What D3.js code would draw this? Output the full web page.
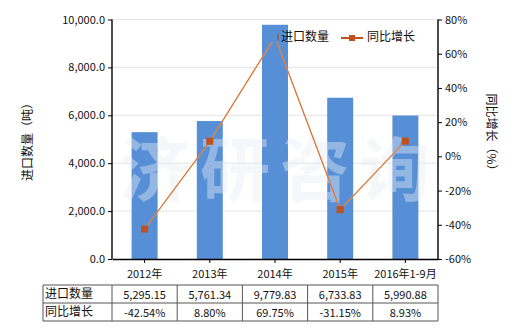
<!DOCTYPE html>
<html>
<head>
<meta charset="utf-8">
<script src="https://cdn.jsdelivr.net/npm/d3@7"></script>
<style>
  body { margin: 0; background: #fff; }
  text { font-family: "Noto Sans CJK SC", "Noto Sans", sans-serif; }
</style>
</head>
<body>
<div id="chart"></div>
<script>
// data
const categories = ["2012年", "2013年", "2014年", "2015年", "2016年1-9月"];
const importQty = [5295.15, 5761.34, 9779.83, 6733.83, 5990.88];
const yoyGrowth = [-42.54, 8.80, 69.75, -31.15, 8.93];
const qtyLabels = ["5,295.15", "5,761.34", "9,779.83", "6,733.83", "5,990.88"];
const yoyLabels = ["-42.54%", "8.80%", "69.75%", "-31.15%", "8.93%"];
const leftTicks = [0, 2000, 4000, 6000, 8000, 10000];
const rightTicks = [-60, -40, -20, 0, 20, 40, 60, 80];

const W = 520, H = 330;
const plot = { left: 112, right: 438, top: 19.5, bottom: 259 };

const svg = d3.select("#chart").append("svg")
    .attr("width", W)
    .attr("height", H);

const xc = d3.scaleBand().domain(categories).range([plot.left, plot.right]);
const yL = d3.scaleLinear().domain([0, 10000]).range([plot.bottom, plot.top]);
const yR = d3.scaleLinear().domain([-60, 80]).range([plot.bottom, plot.top]);
const mid = c => xc(c) + xc.bandwidth() / 2;

// gridlines
svg.append("g").selectAll("line")
    .data(leftTicks.slice(1))
    .join("line")
    .attr("x1", plot.left).attr("x2", plot.right)
    .attr("y1", d => yL(d)).attr("y2", d => yL(d))
    .attr("stroke", "#e4e4e4");

// bars
const barW = 26;
svg.append("g").selectAll("rect")
    .data(importQty)
    .join("rect")
    .attr("x", (d, i) => mid(categories[i]) - barW / 2)
    .attr("y", d => yL(d))
    .attr("width", barW)
    .attr("height", d => plot.bottom - yL(d))
    .attr("fill", "#568fd6");

// watermark
svg.append("text")
    .attr("x", 280).attr("y", 196)
    .attr("text-anchor", "middle")
    .attr("font-size", 70)
    .attr("font-weight", "bold")
    .attr("letter-spacing", 10)
    .attr("fill", "#e8edf3")
    .attr("fill-opacity", 0.42)
    .text("济研咨询");

// line
const line = d3.line()
    .x((d, i) => mid(categories[i]))
    .y(d => yR(d));
svg.append("path")
    .datum(yoyGrowth)
    .attr("d", line)
    .attr("fill", "none")
    .attr("stroke", "#f0a060")
    .attr("stroke-width", 1.4);
svg.append("path")
    .datum(yoyGrowth)
    .attr("d", line)
    .attr("fill", "none")
    .attr("stroke", "#c0501e")
    .attr("stroke-width", 0.6);
svg.append("g").selectAll("rect")
    .data(yoyGrowth)
    .join("rect")
    .attr("x", (d, i) => mid(categories[i]) - 3.5)
    .attr("y", d => yR(d) - 3.5)
    .attr("width", 7).attr("height", 7)
    .attr("fill", "#c0501e");

// axes
const axL = svg.append("g")
    .attr("transform", `translate(${plot.left},0)`)
    .call(d3.axisLeft(yL).tickValues(leftTicks).tickFormat(d3.format(",.1f")).tickSize(4));
const axR = svg.append("g")
    .attr("transform", `translate(${plot.right},0)`)
    .call(d3.axisRight(yR).tickValues(rightTicks).tickFormat(d => d + "%").tickSize(4));
const axB = svg.append("g")
    .attr("transform", `translate(0,${plot.bottom})`)
    .call(d3.axisBottom(xc).tickSize(4).tickSizeOuter(0));
[axL, axR, axB].forEach(a => {
    a.select(".domain").attr("stroke", "#000").attr("stroke-width", 1.4);
    a.selectAll(".tick line").attr("stroke", "#000");
    a.selectAll(".tick text").attr("font-size", 11).attr("fill", "#111")
        .style("font-family", "'Noto Sans CJK SC', sans-serif");
});
axL.select(".domain").attr("d", `M0,${plot.top}V${plot.bottom}`);
axR.select(".domain").attr("d", `M0,${plot.top}V${plot.bottom}`);
axB.selectAll(".tick text").attr("dy", "1.05em");

// axis titles
svg.append("text")
    .attr("transform", "translate(29,139) rotate(-90)")
    .attr("text-anchor", "middle")
    .attr("dominant-baseline", "middle")
    .attr("font-size", 12)
    .attr("fill", "#111")
    .text("进口数量（吨）");
svg.append("text")
    .attr("transform", "translate(490,135) rotate(90)")
    .attr("text-anchor", "middle")
    .attr("dominant-baseline", "middle")
    .attr("font-size", 12)
    .attr("fill", "#111")
    .text("同比增长（%）");

// legend
const lg = svg.append("g").attr("font-size", 12).attr("fill", "#111");
lg.append("rect").attr("x", 264).attr("y", 31).attr("width", 13).attr("height", 11).attr("fill", "#568fd6");
lg.append("text").attr("x", 281).attr("y", 41).text("进口数量");
lg.append("line").attr("x1", 341).attr("x2", 363).attr("y1", 38).attr("y2", 38)
    .attr("stroke", "#c0501e").attr("stroke-width", 2);
lg.append("rect").attr("x", 349).attr("y", 35).attr("width", 6).attr("height", 6).attr("fill", "#c0501e");
lg.append("text").attr("x", 367).attr("y", 41).text("同比增长");

// data table
const tbl = { left: 43, top: 285, rowH: 18 };
const rows = [["进口数量", qtyLabels], ["同比增长", yoyLabels]];
const tg = svg.append("g");
const cols = [tbl.left, ...categories.map(c => xc(c)), plot.right];
rows.forEach((r, ri) => {
    const y0 = tbl.top + ri * tbl.rowH;
    tg.append("text").attr("x", tbl.left + 2).attr("y", y0 + 13)
        .attr("font-size", 12).attr("fill", "#111").text(r[0]);
    r[1].forEach((v, i) => {
        tg.append("text")
            .attr("x", mid(categories[i]))
            .attr("y", y0 + 14)
            .attr("text-anchor", "middle")
            .attr("font-size", 11).attr("fill", "#111")
            .text(v);
    });
});
for (let i = 0; i <= rows.length; i++) {
    tg.append("line")
        .attr("x1", tbl.left).attr("x2", plot.right)
        .attr("y1", tbl.top + i * tbl.rowH).attr("y2", tbl.top + i * tbl.rowH)
        .attr("stroke", "#555");
}
cols.forEach(cx => {
    tg.append("line")
        .attr("x1", cx).attr("x2", cx)
        .attr("y1", tbl.top).attr("y2", tbl.top + rows.length * tbl.rowH)
        .attr("stroke", "#555");
});
</script>
</body>
</html>
